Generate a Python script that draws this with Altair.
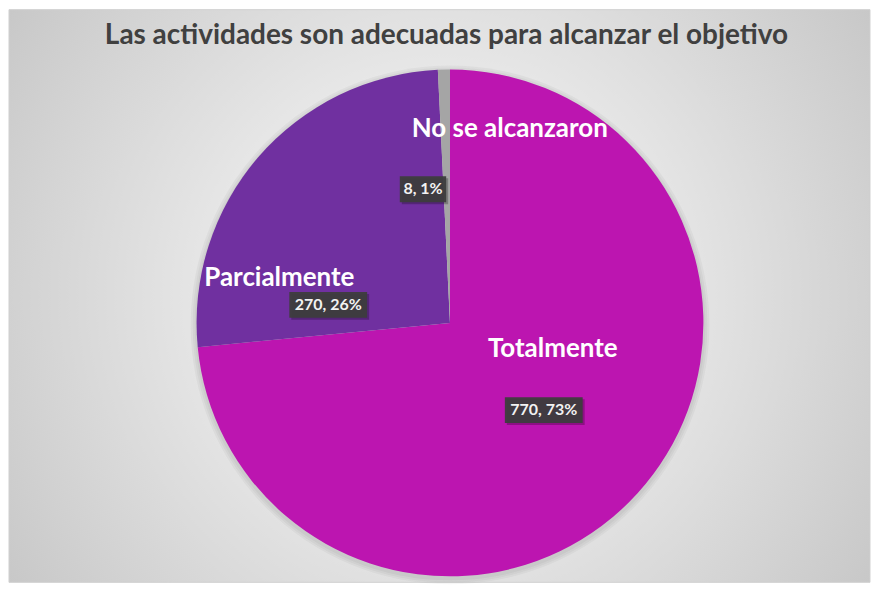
import altair as alt
import pandas as pd

# ---- data ----
categories = ["Totalmente", "Parcialmente", "No se alcanzaron"]
values = [770, 270, 8]
title_text = "Las actividades son adecuadas para alcanzar el objetivo"

# ---- styles / layout (not data) ----
colors = ["#BC15B0", "#7030A0", "#A5A5A5"]
W, H = 863, 574
CX, CY = 442, 314
R = 254
LR = 127
FONT = "Lato"
# manual label nudges (like Excel's moved labels): name (dx, baseline dy), value (dx, dy)
nudges = {
    "Totalmente": ((9, -51), (0, 2)),
    "Parcialmente": ((-75, 46), (-26, 65)),
    "No se alcanzaron": ((63, -59), (-24, -7)),
}

df = pd.DataFrame({"categoria": categories, "valor": values,
                   "orden": list(range(len(categories)))})
base = alt.Chart(df)
one = alt.Data(values=[{"k": 1}])

bg = alt.Chart(one).mark_rect(
    fill=alt.Gradient(
        gradient="radial",
        stops=[alt.GradientStop(color="#FFFFFF", offset=0),
               alt.GradientStop(color="#BDBDBD", offset=1)],
        x1=0.5, y1=0.5, x2=0.5, y2=0.5, r1=0, r2=0.72),
    stroke="#D0D0D0", strokeWidth=1,
).encode(x=alt.value(0), x2=alt.value(W), y=alt.value(0), y2=alt.value(H))

title = alt.Chart(one).mark_text(
    text=title_text, font=FONT, fontWeight="bold", fontSize=28,
    color="#404040", align="center", baseline="alphabetic",
).encode(x=alt.value(438.5), y=alt.value(34))

shadows = [
    alt.Chart(one).mark_arc(theta=0, theta2=6.2832, outerRadius=R + k,
                            color="#000000", opacity=0.035)
    .encode(x=alt.value(CX), y=alt.value(CY + 2))
    for k in (2, 4, 6)
]

pie = base.mark_arc(outerRadius=R).encode(
    theta=alt.Theta("valor:Q", stack=True),
    order=alt.Order("orden:Q"),
    color=alt.Color("categoria:N", scale=alt.Scale(domain=categories, range=colors), legend=None),
    x=alt.value(CX), y=alt.value(CY),
)

pos = base.transform_joinaggregate(total="sum(valor)").transform_window(
    cum="sum(valor)", sort=[alt.SortField("orden")], frame=[None, 0]
).transform_calculate(
    mid="(datum.cum - datum.valor / 2) / datum.total * 2 * PI",
    px=f"{CX} + {LR} * sin(datum.mid)",
    py=f"{CY} - {LR} * cos(datum.mid)",
    etiqueta="format(datum.valor, 'd') + ', ' + format(datum.valor / datum.total, '.0%')",
)

label_layers = []
for c in categories:
    (ndx, ndy), (vdx, vdy) = nudges[c]
    p = pos.transform_filter(alt.datum.categoria == c).transform_calculate(
        nx=f"datum.px + {ndx}", ny=f"datum.py + {ndy}",
        vx=f"datum.px + {vdx}", vy=f"datum.py + {vdy}",
        bw="length(datum.etiqueta) * 10.5 - 6",
    ).transform_calculate(
        bx1="datum.vx - datum.bw / 2", bx2="datum.vx + datum.bw / 2",
        by1="datum.vy - 13", by2="datum.vy + 13",
        sx1="datum.vx - datum.bw / 2 + 2", sx2="datum.vx + datum.bw / 2 + 2",
        sy1="datum.vy - 11", sy2="datum.vy + 15",
    )
    name = p.mark_text(font=FONT, fontWeight="bold", fontSize=26, color="#FFFFFF",
                       align="center", baseline="alphabetic").encode(
        x=alt.X("nx:Q", scale=None, axis=None), y=alt.Y("ny:Q", scale=None, axis=None),
        text="categoria:N")
    shadow = p.mark_rect(color="#000000", opacity=0.25).encode(
        x=alt.X("sx1:Q", scale=None, axis=None), x2="sx2:Q",
        y=alt.Y("sy1:Q", scale=None, axis=None), y2="sy2:Q")
    box = p.mark_rect(color="#3D3D3D", opacity=0.95).encode(
        x=alt.X("bx1:Q", scale=None, axis=None), x2="bx2:Q",
        y=alt.Y("by1:Q", scale=None, axis=None), y2="by2:Q")
    val = p.mark_text(font=FONT, fontWeight="bold", fontSize=16, color="#F2F2F2",
                      align="center", baseline="middle").encode(
        x=alt.X("vx:Q", scale=None, axis=None), y=alt.Y("vy:Q", scale=None, axis=None),
        text="etiqueta:N")
    label_layers += [name, shadow, box, val]

chart = alt.layer(bg, title, *shadows, pie, *label_layers).properties(
    width=W, height=H, padding=0
).configure_view(stroke=None)

chart.save("out.html", embed_options={"renderer": "svg", "actions": False})
